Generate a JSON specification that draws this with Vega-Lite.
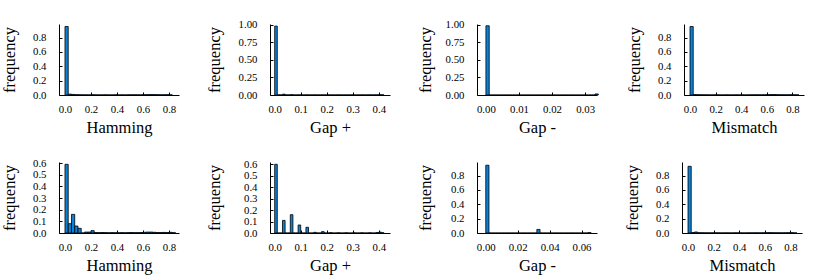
{
"$schema": "https://vega.github.io/schema/vega-lite/v6.json",
"padding": {"left": 1, "top": 18, "right": 5, "bottom": 3},
"background": "white",
"config": {
  "view": {"stroke": null},
  "font": "Liberation Serif",
  "axis": {"grid": false, "domainColor": "black", "domainWidth": 1, "tickColor": "black", "tickSize": -3, "tickWidth": 1,
           "labelFont": "Liberation Serif", "labelFontSize": 10.8, "labelColor": "black",
           "titleFont": "Liberation Serif", "titleFontSize": 16.5, "titleFontWeight": "normal", "titleColor": "black"},
  "axisX": {"labelPadding": 11, "titlePadding": 6, "labelAngle": 0, "labelFlush": false},
  "axisY": {"labelPadding": 16, "titlePadding": 10, "minExtent": 32, "maxExtent": 32, "labelFlush": false}
},
"datasets": {
  "hamming1": [
    {"start":0,"end":0.025,"frequency":0.955},{"start":0.025,"end":0.05,"frequency":0.012},{"start":0.05,"end":0.075,"frequency":0.008},{"start":0.075,"end":0.1,"frequency":0.004},{"start":0.1,"end":0.125,"frequency":0.003},{"start":0.125,"end":0.15,"frequency":0.002},{"start":0.15,"end":0.175,"frequency":0.002},{"start":0.175,"end":0.2,"frequency":0.001},{"start":0.2,"end":0.225,"frequency":0.003},{"start":0.225,"end":0.25,"frequency":0.002},{"start":0.25,"end":0.275,"frequency":0.001},{"start":0.275,"end":0.3,"frequency":0.001},{"start":0.3,"end":0.325,"frequency":0.002},{"start":0.325,"end":0.35,"frequency":0.001},{"start":0.35,"end":0.375,"frequency":0.001},{"start":0.375,"end":0.4,"frequency":0.002},{"start":0.4,"end":0.425,"frequency":0.001},{"start":0.425,"end":0.45,"frequency":0.002},{"start":0.45,"end":0.475,"frequency":0.001},{"start":0.475,"end":0.5,"frequency":0.002},{"start":0.5,"end":0.525,"frequency":0.002},{"start":0.525,"end":0.55,"frequency":0.003},{"start":0.55,"end":0.575,"frequency":0.002},{"start":0.575,"end":0.6,"frequency":0.002},{"start":0.6,"end":0.625,"frequency":0.004},{"start":0.625,"end":0.65,"frequency":0.005},{"start":0.65,"end":0.675,"frequency":0.006},{"start":0.675,"end":0.7,"frequency":0.005},{"start":0.7,"end":0.725,"frequency":0.004},{"start":0.725,"end":0.75,"frequency":0.003},{"start":0.75,"end":0.775,"frequency":0.003},{"start":0.775,"end":0.8,"frequency":0.004},{"start":0.8,"end":0.825,"frequency":0.003}
  ],
  "gapplus1": [
    {"start":0,"end":0.01,"frequency":0.98},{"start":0.01,"end":0.02,"frequency":0.002},{"start":0.02,"end":0.03,"frequency":0.001},{"start":0.03,"end":0.04,"frequency":0.012},{"start":0.04,"end":0.05,"frequency":0.002},{"start":0.05,"end":0.06,"frequency":0.001},{"start":0.06,"end":0.07,"frequency":0.005},{"start":0.07,"end":0.08,"frequency":0.001},{"start":0.08,"end":0.09,"frequency":0.001},{"start":0.09,"end":0.1,"frequency":0.002},{"start":0.1,"end":0.11,"frequency":0.001},{"start":0.11,"end":0.12,"frequency":0.001},{"start":0.12,"end":0.13,"frequency":0.002},{"start":0.13,"end":0.14,"frequency":0.001},{"start":0.14,"end":0.15,"frequency":0.001},{"start":0.15,"end":0.16,"frequency":0.002},{"start":0.16,"end":0.17,"frequency":0.001},{"start":0.17,"end":0.18,"frequency":0.001},{"start":0.18,"end":0.19,"frequency":0.002},{"start":0.19,"end":0.2,"frequency":0.001},{"start":0.2,"end":0.21,"frequency":0.002},{"start":0.21,"end":0.22,"frequency":0.001},{"start":0.22,"end":0.23,"frequency":0.001},{"start":0.23,"end":0.24,"frequency":0.001},{"start":0.24,"end":0.25,"frequency":0.002},{"start":0.25,"end":0.26,"frequency":0.001},{"start":0.26,"end":0.27,"frequency":0.001},{"start":0.27,"end":0.28,"frequency":0.001},{"start":0.28,"end":0.29,"frequency":0.001},{"start":0.29,"end":0.3,"frequency":0.002},{"start":0.3,"end":0.31,"frequency":0.001},{"start":0.31,"end":0.32,"frequency":0.001},{"start":0.32,"end":0.33,"frequency":0.001},{"start":0.33,"end":0.34,"frequency":0.002},{"start":0.34,"end":0.35,"frequency":0.001},{"start":0.35,"end":0.36,"frequency":0.001},{"start":0.36,"end":0.37,"frequency":0.002},{"start":0.37,"end":0.38,"frequency":0.001},{"start":0.38,"end":0.39,"frequency":0.002},{"start":0.39,"end":0.4,"frequency":0.002},{"start":0.4,"end":0.41,"frequency":0.004},{"start":0.41,"end":0.42,"frequency":0.002}
  ],
  "gapminus1": [
    {"start":0,"end":0.001,"frequency":0.985},{"start":0.001,"end":0.002,"frequency":0},{"start":0.002,"end":0.003,"frequency":0},{"start":0.003,"end":0.004,"frequency":0},{"start":0.004,"end":0.005,"frequency":0},{"start":0.005,"end":0.006,"frequency":0},{"start":0.006,"end":0.007,"frequency":0},{"start":0.007,"end":0.008,"frequency":0},{"start":0.008,"end":0.009,"frequency":0},{"start":0.009,"end":0.01,"frequency":0},{"start":0.01,"end":0.011,"frequency":0},{"start":0.011,"end":0.012,"frequency":0},{"start":0.012,"end":0.013,"frequency":0},{"start":0.013,"end":0.014,"frequency":0},{"start":0.014,"end":0.015,"frequency":0},{"start":0.015,"end":0.016,"frequency":0},{"start":0.016,"end":0.017,"frequency":0},{"start":0.017,"end":0.018,"frequency":0},{"start":0.018,"end":0.019,"frequency":0},{"start":0.019,"end":0.02,"frequency":0},{"start":0.02,"end":0.021,"frequency":0},{"start":0.021,"end":0.022,"frequency":0},{"start":0.022,"end":0.023,"frequency":0},{"start":0.023,"end":0.024,"frequency":0},{"start":0.024,"end":0.025,"frequency":0},{"start":0.025,"end":0.026,"frequency":0},{"start":0.026,"end":0.027,"frequency":0},{"start":0.027,"end":0.028,"frequency":0},{"start":0.028,"end":0.029,"frequency":0},{"start":0.029,"end":0.03,"frequency":0},{"start":0.03,"end":0.031,"frequency":0},{"start":0.031,"end":0.032,"frequency":0},{"start":0.032,"end":0.033,"frequency":0},{"start":0.033,"end":0.034,"frequency":0.015}
  ],
  "mismatch1": [
    {"start":0,"end":0.025,"frequency":0.955},{"start":0.025,"end":0.05,"frequency":0.006},{"start":0.05,"end":0.075,"frequency":0.004},{"start":0.075,"end":0.1,"frequency":0.003},{"start":0.1,"end":0.125,"frequency":0.002},{"start":0.125,"end":0.15,"frequency":0.002},{"start":0.15,"end":0.175,"frequency":0.001},{"start":0.175,"end":0.2,"frequency":0.002},{"start":0.2,"end":0.225,"frequency":0.002},{"start":0.225,"end":0.25,"frequency":0.001},{"start":0.25,"end":0.275,"frequency":0.001},{"start":0.275,"end":0.3,"frequency":0.002},{"start":0.3,"end":0.325,"frequency":0.001},{"start":0.325,"end":0.35,"frequency":0.001},{"start":0.35,"end":0.375,"frequency":0.002},{"start":0.375,"end":0.4,"frequency":0.001},{"start":0.4,"end":0.425,"frequency":0.002},{"start":0.425,"end":0.45,"frequency":0.001},{"start":0.45,"end":0.475,"frequency":0.002},{"start":0.475,"end":0.5,"frequency":0.002},{"start":0.5,"end":0.525,"frequency":0.003},{"start":0.525,"end":0.55,"frequency":0.002},{"start":0.55,"end":0.575,"frequency":0.002},{"start":0.575,"end":0.6,"frequency":0.003},{"start":0.6,"end":0.625,"frequency":0.004},{"start":0.625,"end":0.65,"frequency":0.006},{"start":0.65,"end":0.675,"frequency":0.006},{"start":0.675,"end":0.7,"frequency":0.004},{"start":0.7,"end":0.725,"frequency":0.003},{"start":0.725,"end":0.75,"frequency":0.003},{"start":0.75,"end":0.775,"frequency":0.002},{"start":0.775,"end":0.8,"frequency":0.004},{"start":0.8,"end":0.825,"frequency":0.003},{"start":0.825,"end":0.85,"frequency":0.002}
  ],
  "hamming2": [
    {"start":0,"end":0.025,"frequency":0.59},{"start":0.025,"end":0.05,"frequency":0.08},{"start":0.05,"end":0.075,"frequency":0.16},{"start":0.075,"end":0.1,"frequency":0.06},{"start":0.1,"end":0.125,"frequency":0.04},{"start":0.125,"end":0.15,"frequency":0},{"start":0.15,"end":0.175,"frequency":0.008},{"start":0.175,"end":0.2,"frequency":0.008},{"start":0.2,"end":0.225,"frequency":0.02},{"start":0.225,"end":0.25,"frequency":0.004},{"start":0.25,"end":0.275,"frequency":0.003},{"start":0.275,"end":0.3,"frequency":0.004},{"start":0.3,"end":0.325,"frequency":0.003},{"start":0.325,"end":0.35,"frequency":0.002},{"start":0.35,"end":0.375,"frequency":0.003},{"start":0.375,"end":0.4,"frequency":0.002},{"start":0.4,"end":0.425,"frequency":0.002},{"start":0.425,"end":0.45,"frequency":0.003},{"start":0.45,"end":0.475,"frequency":0.002},{"start":0.475,"end":0.5,"frequency":0.003},{"start":0.5,"end":0.525,"frequency":0.004},{"start":0.525,"end":0.55,"frequency":0.003},{"start":0.55,"end":0.575,"frequency":0.003},{"start":0.575,"end":0.6,"frequency":0.004},{"start":0.6,"end":0.625,"frequency":0.006},{"start":0.625,"end":0.65,"frequency":0.008},{"start":0.65,"end":0.675,"frequency":0.008},{"start":0.675,"end":0.7,"frequency":0.006},{"start":0.7,"end":0.725,"frequency":0.004},{"start":0.725,"end":0.75,"frequency":0.004},{"start":0.75,"end":0.775,"frequency":0.005},{"start":0.775,"end":0.8,"frequency":0.004},{"start":0.8,"end":0.825,"frequency":0.006},{"start":0.825,"end":0.85,"frequency":0.003}
  ],
  "gapplus2": [
    {"start":0,"end":0.01,"frequency":0.6},{"start":0.01,"end":0.02,"frequency":0},{"start":0.02,"end":0.03,"frequency":0},{"start":0.03,"end":0.04,"frequency":0.11},{"start":0.04,"end":0.05,"frequency":0},{"start":0.05,"end":0.06,"frequency":0},{"start":0.06,"end":0.07,"frequency":0.16},{"start":0.07,"end":0.08,"frequency":0},{"start":0.08,"end":0.09,"frequency":0},{"start":0.09,"end":0.1,"frequency":0.07},{"start":0.1,"end":0.11,"frequency":0},{"start":0.11,"end":0.12,"frequency":0},{"start":0.12,"end":0.13,"frequency":0.05},{"start":0.13,"end":0.14,"frequency":0},{"start":0.14,"end":0.15,"frequency":0},{"start":0.15,"end":0.16,"frequency":0.006},{"start":0.16,"end":0.17,"frequency":0},{"start":0.17,"end":0.18,"frequency":0},{"start":0.18,"end":0.19,"frequency":0.012},{"start":0.19,"end":0.2,"frequency":0},{"start":0.2,"end":0.21,"frequency":0},{"start":0.21,"end":0.22,"frequency":0.003},{"start":0.22,"end":0.23,"frequency":0},{"start":0.23,"end":0.24,"frequency":0},{"start":0.24,"end":0.25,"frequency":0.002},{"start":0.25,"end":0.26,"frequency":0},{"start":0.26,"end":0.27,"frequency":0},{"start":0.27,"end":0.28,"frequency":0.002},{"start":0.28,"end":0.29,"frequency":0},{"start":0.29,"end":0.3,"frequency":0},{"start":0.3,"end":0.31,"frequency":0.002},{"start":0.31,"end":0.32,"frequency":0},{"start":0.32,"end":0.33,"frequency":0},{"start":0.33,"end":0.34,"frequency":0.002},{"start":0.34,"end":0.35,"frequency":0},{"start":0.35,"end":0.36,"frequency":0},{"start":0.36,"end":0.37,"frequency":0.002},{"start":0.37,"end":0.38,"frequency":0},{"start":0.38,"end":0.39,"frequency":0},{"start":0.39,"end":0.4,"frequency":0.004},{"start":0.4,"end":0.41,"frequency":0.008},{"start":0.41,"end":0.42,"frequency":0.002}
  ],
  "gapminus2": [
    {"start":0,"end":0.002,"frequency":0.945},{"start":0.002,"end":0.004,"frequency":0},{"start":0.004,"end":0.006,"frequency":0},{"start":0.006,"end":0.008,"frequency":0},{"start":0.008,"end":0.01,"frequency":0},{"start":0.01,"end":0.012,"frequency":0},{"start":0.012,"end":0.014,"frequency":0},{"start":0.014,"end":0.016,"frequency":0},{"start":0.016,"end":0.018,"frequency":0},{"start":0.018,"end":0.02,"frequency":0},{"start":0.02,"end":0.022,"frequency":0},{"start":0.022,"end":0.024,"frequency":0},{"start":0.024,"end":0.026,"frequency":0},{"start":0.026,"end":0.028,"frequency":0},{"start":0.028,"end":0.03,"frequency":0},{"start":0.03,"end":0.032,"frequency":0},{"start":0.032,"end":0.034,"frequency":0.05},{"start":0.034,"end":0.036,"frequency":0},{"start":0.036,"end":0.038,"frequency":0},{"start":0.038,"end":0.04,"frequency":0},{"start":0.04,"end":0.042,"frequency":0},{"start":0.042,"end":0.044,"frequency":0},{"start":0.044,"end":0.046,"frequency":0},{"start":0.046,"end":0.048,"frequency":0},{"start":0.048,"end":0.05,"frequency":0},{"start":0.05,"end":0.052,"frequency":0},{"start":0.052,"end":0.054,"frequency":0},{"start":0.054,"end":0.056,"frequency":0},{"start":0.056,"end":0.058,"frequency":0},{"start":0.058,"end":0.06,"frequency":0},{"start":0.06,"end":0.062,"frequency":0},{"start":0.062,"end":0.064,"frequency":0},{"start":0.064,"end":0.066,"frequency":0.005}
  ],
  "mismatch2": [
    {"start":0,"end":0.025,"frequency":0.93},{"start":0.025,"end":0.05,"frequency":0.006},{"start":0.05,"end":0.075,"frequency":0.014},{"start":0.075,"end":0.1,"frequency":0.004},{"start":0.1,"end":0.125,"frequency":0.003},{"start":0.125,"end":0.15,"frequency":0.002},{"start":0.15,"end":0.175,"frequency":0.002},{"start":0.175,"end":0.2,"frequency":0.002},{"start":0.2,"end":0.225,"frequency":0.003},{"start":0.225,"end":0.25,"frequency":0.002},{"start":0.25,"end":0.275,"frequency":0.001},{"start":0.275,"end":0.3,"frequency":0.002},{"start":0.3,"end":0.325,"frequency":0.002},{"start":0.325,"end":0.35,"frequency":0.001},{"start":0.35,"end":0.375,"frequency":0.002},{"start":0.375,"end":0.4,"frequency":0.002},{"start":0.4,"end":0.425,"frequency":0.002},{"start":0.425,"end":0.45,"frequency":0.001},{"start":0.45,"end":0.475,"frequency":0.002},{"start":0.475,"end":0.5,"frequency":0.002},{"start":0.5,"end":0.525,"frequency":0.002},{"start":0.525,"end":0.55,"frequency":0.003},{"start":0.55,"end":0.575,"frequency":0.002},{"start":0.575,"end":0.6,"frequency":0.003},{"start":0.6,"end":0.625,"frequency":0.004},{"start":0.625,"end":0.65,"frequency":0.005},{"start":0.65,"end":0.675,"frequency":0.004},{"start":0.675,"end":0.7,"frequency":0.003},{"start":0.7,"end":0.725,"frequency":0.003},{"start":0.725,"end":0.75,"frequency":0.002},{"start":0.75,"end":0.775,"frequency":0.003},{"start":0.775,"end":0.8,"frequency":0.004},{"start":0.8,"end":0.825,"frequency":0.005},{"start":0.825,"end":0.85,"frequency":0.002}
  ]
},
"spacing": 20,
"vconcat": [
  {"spacing": 27, "hconcat": [
    {"width": 120, "height": 71, "data": {"name": "hamming1"},
     "mark": {"type": "rect", "fill": "#0a82d8", "stroke": "black", "strokeWidth": 0.8},
     "encoding": {
       "x": {"field": "start", "type": "quantitative", "scale": {"domain": [-0.046, 0.877], "nice": false, "zero": false}, "axis": {"title": "Hamming", "values": [0, 0.2, 0.4, 0.6, 0.8], "format": ".1f"}},
       "x2": {"field": "end"},
       "y": {"field": "frequency", "type": "quantitative", "scale": {"domain": [0, 0.99], "nice": false}, "axis": {"title": "frequency", "values": [0, 0.2, 0.4, 0.6, 0.8], "format": ".1f"}},
       "y2": {"datum": 0}}},
    {"width": 120, "height": 71, "data": {"name": "gapplus1"},
     "mark": {"type": "rect", "fill": "#0a82d8", "stroke": "black", "strokeWidth": 0.8},
     "encoding": {
       "x": {"field": "start", "type": "quantitative", "scale": {"domain": [-0.018, 0.443], "nice": false, "zero": false}, "axis": {"title": "Gap +", "values": [0, 0.1, 0.2, 0.3, 0.4], "format": ".1f"}},
       "x2": {"field": "end"},
       "y": {"field": "frequency", "type": "quantitative", "scale": {"domain": [0, 1.01], "nice": false}, "axis": {"title": "frequency", "titlePadding": 16, "values": [0, 0.25, 0.5, 0.75, 1], "format": ".2f"}},
       "y2": {"datum": 0}}},
    {"width": 120, "height": 71, "data": {"name": "gapminus1"},
     "mark": {"type": "rect", "fill": "#0a82d8", "stroke": "black", "strokeWidth": 0.8},
     "encoding": {
       "x": {"field": "start", "type": "quantitative", "scale": {"domain": [-0.0027, 0.0336], "nice": false, "zero": false}, "axis": {"title": "Gap -", "values": [0, 0.01, 0.02, 0.03], "format": ".2f"}},
       "x2": {"field": "end"},
       "y": {"field": "frequency", "type": "quantitative", "scale": {"domain": [0, 1.01], "nice": false}, "axis": {"title": "frequency", "titlePadding": 12, "values": [0, 0.25, 0.5, 0.75, 1], "format": ".2f"}},
       "y2": {"datum": 0}}},
    {"width": 120, "height": 71, "data": {"name": "mismatch1"},
     "mark": {"type": "rect", "fill": "#0a82d8", "stroke": "black", "strokeWidth": 0.8},
     "encoding": {
       "x": {"field": "start", "type": "quantitative", "scale": {"domain": [-0.047, 0.89], "nice": false, "zero": false}, "axis": {"title": "Mismatch", "values": [0, 0.2, 0.4, 0.6, 0.8], "format": ".1f"}},
       "x2": {"field": "end"},
       "y": {"field": "frequency", "type": "quantitative", "scale": {"domain": [0, 0.99], "nice": false}, "axis": {"title": "frequency", "values": [0, 0.2, 0.4, 0.6, 0.8], "format": ".1f"}},
       "y2": {"datum": 0}}}
  ]},
  {"spacing": 27, "hconcat": [
    {"width": 120, "height": 71, "data": {"name": "hamming2"},
     "mark": {"type": "rect", "fill": "#0a82d8", "stroke": "black", "strokeWidth": 0.8},
     "encoding": {
       "x": {"field": "start", "type": "quantitative", "scale": {"domain": [-0.046, 0.877], "nice": false, "zero": false}, "axis": {"title": "Hamming", "values": [0, 0.2, 0.4, 0.6, 0.8], "format": ".1f"}},
       "x2": {"field": "end"},
       "y": {"field": "frequency", "type": "quantitative", "scale": {"domain": [0, 0.61], "nice": false}, "axis": {"title": "frequency", "values": [0, 0.1, 0.2, 0.3, 0.4, 0.5, 0.6], "format": ".1f"}},
       "y2": {"datum": 0}}},
    {"width": 120, "height": 71, "data": {"name": "gapplus2"},
     "mark": {"type": "rect", "fill": "#0a82d8", "stroke": "black", "strokeWidth": 0.8},
     "encoding": {
       "x": {"field": "start", "type": "quantitative", "scale": {"domain": [-0.018, 0.443], "nice": false, "zero": false}, "axis": {"title": "Gap +", "values": [0, 0.1, 0.2, 0.3, 0.4], "format": ".1f"}},
       "x2": {"field": "end"},
       "y": {"field": "frequency", "type": "quantitative", "scale": {"domain": [0, 0.62], "nice": false}, "axis": {"title": "frequency", "titlePadding": 16, "values": [0, 0.1, 0.2, 0.3, 0.4, 0.5, 0.6], "format": ".1f"}},
       "y2": {"datum": 0}}},
    {"width": 120, "height": 71, "data": {"name": "gapminus2"},
     "mark": {"type": "rect", "fill": "#0a82d8", "stroke": "black", "strokeWidth": 0.8},
     "encoding": {
       "x": {"field": "start", "type": "quantitative", "scale": {"domain": [-0.0055, 0.0697], "nice": false, "zero": false}, "axis": {"title": "Gap -", "values": [0, 0.02, 0.04, 0.06], "format": ".2f"}},
       "x2": {"field": "end"},
       "y": {"field": "frequency", "type": "quantitative", "scale": {"domain": [0, 0.99], "nice": false}, "axis": {"title": "frequency", "titlePadding": 12, "values": [0, 0.2, 0.4, 0.6, 0.8], "format": ".1f"}},
       "y2": {"datum": 0}}},
    {"width": 120, "height": 71, "data": {"name": "mismatch2"},
     "mark": {"type": "rect", "fill": "#0a82d8", "stroke": "black", "strokeWidth": 0.8},
     "encoding": {
       "x": {"field": "start", "type": "quantitative", "scale": {"domain": [-0.047, 0.89], "nice": false, "zero": false}, "axis": {"title": "Mismatch", "values": [0, 0.2, 0.4, 0.6, 0.8], "format": ".1f"}},
       "x2": {"field": "end"},
       "y": {"field": "frequency", "type": "quantitative", "scale": {"domain": [0, 0.99], "nice": false}, "axis": {"title": "frequency", "values": [0, 0.2, 0.4, 0.6, 0.8], "format": ".1f"}},
       "y2": {"datum": 0}}}
  ]}
]
}
